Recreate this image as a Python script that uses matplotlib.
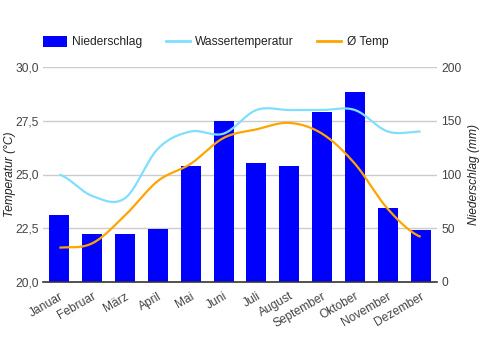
import numpy as np
import matplotlib
matplotlib.use("Agg")
import matplotlib.pyplot as plt
from matplotlib.patches import Patch
from matplotlib.lines import Line2D

months = ["Januar", "Februar", "März", "April", "Mai", "Juni", "Juli",
          "August", "September", "Oktober", "November", "Dezember"]
niederschlag = [62, 45, 45, 49, 108, 150, 111, 108, 158, 177, 69, 48]
wassertemp = [25.0, 24.0, 23.9, 26.2, 27.0, 26.9, 28.0, 28.0, 28.0, 28.0, 27.0, 27.0]
avg_temp = [21.6, 21.8, 23.1, 24.7, 25.5, 26.7, 27.1, 27.4, 26.9, 25.5, 23.4, 22.1]

plt.rcParams['font.family'] = ['Liberation Sans', 'DejaVu Sans']
FS = 8.64
TXT = '#444444'


def smooth(x, y, n=24):
    x = np.asarray(x, float)
    y = np.asarray(y, float)
    N = len(y)
    m = np.zeros(N)
    for i in range(N):
        if i == 0:
            m[i] = (y[1] - y[0]) * 0.5
        elif i == N - 1:
            m[i] = (y[-1] - y[-2]) * 0.5
        else:
            m[i] = (y[i + 1] - y[i - 1]) * 0.5
    xs, ys = [], []
    for i in range(N - 1):
        s = np.linspace(0, 1, n, endpoint=(i == N - 2))
        h00 = 2 * s**3 - 3 * s**2 + 1
        h10 = s**3 - 2 * s**2 + s
        h01 = -2 * s**3 + 3 * s**2
        h11 = s**3 - s**2
        xs.append(x[i] + s * (x[i + 1] - x[i]))
        ys.append(h00 * y[i] + h10 * m[i] + h01 * y[i + 1] + h11 * m[i + 1])
    return np.concatenate(xs), np.concatenate(ys)


fig = plt.figure(figsize=(4.81, 3.5), dpi=100)
ax_t = fig.add_axes([43 / 481, 68 / 350, 394 / 481, 215 / 350])
ax_p = ax_t.twinx()

x = np.arange(len(months))

ax_p.set_zorder(1)
ax_t.set_zorder(2)
ax_t.patch.set_visible(False)
ax_p.bar(x, niederschlag, width=0.61, color='#0000FF', zorder=2)
ax_p.set_ylim(0, 200)
ax_p.set_yticks([0, 50, 100, 150, 200])
ax_p.set_yticklabels(['0', '50', '100', '150', '200'])

ax_t.set_ylim(20, 30)
ax_t.set_xlim(-0.5, 11.5)
ax_t.set_yticks([20, 22.5, 25, 27.5, 30])
ax_t.set_yticklabels(['20,0', '22,5', '25,0', '27,5', '30,0'])

for v in [22.5, 25, 27.5, 30]:
    ax_p.axhline((v - 20) * 20, color='#cccccc', lw=1, zorder=0)

sx, sy = smooth(x, wassertemp)
ax_t.plot(sx, sy, color='#80DEFF', lw=1.6, solid_capstyle='butt', zorder=3)
sx, sy = smooth(x, avg_temp)
ax_t.plot(sx, sy, color='#FFA500', lw=1.6, solid_capstyle='butt', zorder=4)

for a in (ax_t, ax_p):
    for s in a.spines.values():
        s.set_visible(False)
    a.tick_params(length=0, labelsize=FS, labelcolor=TXT, pad=3)
ax_t.axhline(20, color='#333333', lw=1.2, zorder=5, clip_on=False)

ax_t.set_xticks(x)
ax_t.set_xticklabels(months, rotation=30, ha='right', rotation_mode='anchor',
                     fontsize=FS, color=TXT)
ax_t.tick_params(axis='x', pad=6)

ax_t.set_ylabel('Temperatur (°C)', fontsize=FS, fontstyle='italic', color='#222222')
ax_t.yaxis.set_label_coords((16 - 43) / 394, 0.5)
ax_p.set_ylabel('Niederschlag (mm)', fontsize=FS, fontstyle='italic', color='#222222',
                rotation=90)
ax_p.yaxis.set_label_coords((468 - 43) / 394, 0.5)

handles = [Patch(facecolor='#0000FF', edgecolor='none'),
           Line2D([], [], color='#80DEFF', lw=2),
           Line2D([], [], color='#FFA500', lw=2)]
fig.legend(handles, ['Niederschlag', 'Wassertemperatur', 'Ø Temp'], ncol=3,
           loc='center left', bbox_to_anchor=(38 / 481, 1 - 42 / 350), frameon=False,
           fontsize=FS, handlelength=2.0, handleheight=1.0, handletextpad=0.45,
           columnspacing=1.95, labelcolor='#222222', borderaxespad=0)

fig.savefig('out.png', dpi=100)
